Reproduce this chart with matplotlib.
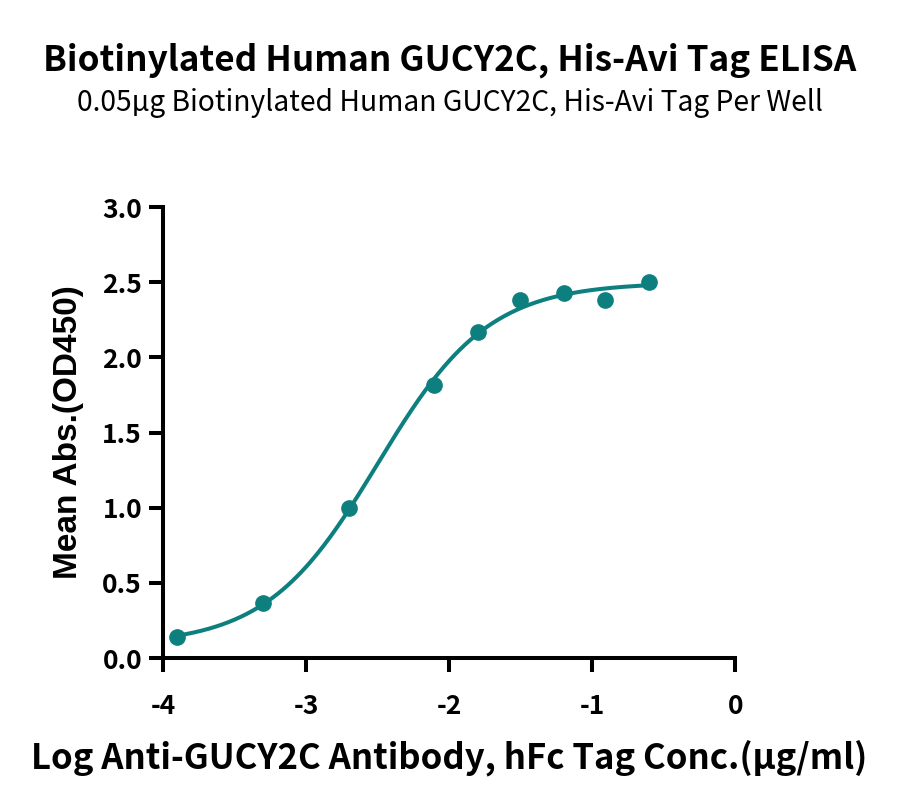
import numpy as np
import matplotlib
matplotlib.use('Agg')
import matplotlib.pyplot as plt

# data
log_conc = [-3.90, -3.30, -2.70, -2.107, -1.80, -1.504, -1.20, -0.908, -0.603]
mean_abs = [0.14, 0.367, 0.995, 1.817, 2.17, 2.38, 2.43, 2.385, 2.505]

x_ticks = [-4, -3, -2, -1, 0]
y_ticks = [0.0, 0.5, 1.0, 1.5, 2.0, 2.5, 3.0]

title = 'Biotinylated Human GUCY2C, His-Avi Tag ELISA'
subtitle = '0.05\u00b5g Biotinylated Human GUCY2C, His-Avi Tag Per Well'
xlabel = 'Log Anti-GUCY2C Antibody, hFc Tag Conc.(\u00b5g/ml)'
ylabel = 'Mean Abs.(OD450)'

teal = '#0e7f7f'
cjk = ['Noto Sans CJK SC', 'DejaVu Sans']


def fit_4pl(x, y):
    # bottom/top are linear once ec50 and hill are fixed
    x = np.asarray(x)
    y = np.asarray(y)
    best = None
    for ec in np.linspace(-3.5, -1.5, 201):
        for h in np.linspace(0.5, 2.5, 201):
            s = 1.0 / (1.0 + 10 ** ((ec - x) * h))
            A = np.column_stack([1 - s, s])
            coef, *_ = np.linalg.lstsq(A, y, rcond=None)
            err = np.sum((A @ coef - y) ** 2)
            if best is None or err < best[0]:
                best = (err, coef[0], coef[1], ec, h)
    return best[1:]


bottom, top, ec50, hill = fit_4pl(log_conc, mean_abs)
xs = np.linspace(min(log_conc), max(log_conc), 300)
ys = bottom + (top - bottom) / (1 + 10 ** ((ec50 - xs) * hill))

fig = plt.figure(figsize=(9, 8.08), dpi=100)
ax = fig.add_axes([0.181, 0.1856, 0.636, 0.558])

ax.plot(xs, ys, color=teal, lw=2.9, solid_capstyle='round', clip_on=False)
ax.plot(log_conc, mean_abs, 'o', color=teal, ms=11, clip_on=False)

ax.set_xlim(-4, 0)
ax.set_ylim(0, 3)
ax.set_xticks(x_ticks)
ax.set_yticks(y_ticks)
ax.set_xticklabels([str(t) for t in x_ticks])
ax.set_yticklabels(['%.1f' % t for t in y_ticks])

for side in ['top', 'right']:
    ax.spines[side].set_visible(False)
for side in ['left', 'bottom']:
    ax.spines[side].set_linewidth(2.9)
ax.tick_params(width=2.9, length=10)
ax.tick_params(axis='y', pad=5)
ax.tick_params(axis='x', pad=15)
for lab in ax.get_xticklabels() + ax.get_yticklabels():
    lab.set_family(cjk)
    lab.set_fontweight('heavy')
    lab.set_fontsize(19)

ax.set_xlabel(xlabel, family=cjk, fontweight='heavy', fontsize=25, labelpad=14)
ax.set_ylabel(ylabel, family=['Liberation Sans', 'DejaVu Sans'],
              fontweight='bold', fontsize=24)
ax.yaxis.set_label_coords(-0.137, 0.5)

fig.text(0.5, 0.925, title, ha='center', va='center', family=cjk,
         fontweight='heavy', fontsize=25.3)
fig.text(0.5, 0.872, subtitle, ha='center', va='center', family=cjk,
         fontsize=20.3)

fig.savefig('out.png', dpi=100)
